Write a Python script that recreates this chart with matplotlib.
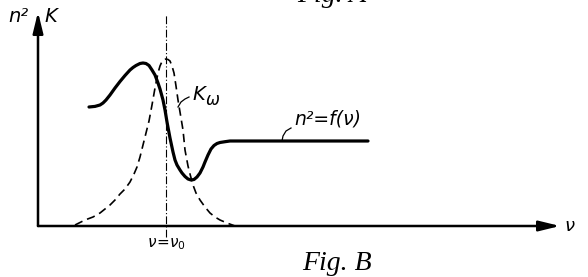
import matplotlib
matplotlib.use("Agg")
import matplotlib.pyplot as plt

# Curve n^2 = f(nu) (arbitrary units; origin at axes crossing)
n2_nu = [51, 54, 57, 62, 65, 68, 72, 77, 82, 87, 92, 95, 98, 102, 105, 108, 111,
         114, 117, 120, 122, 125, 127, 129, 132, 135, 137, 139, 142, 144, 147,
         150, 153, 156, 159, 162, 165, 167, 170, 173, 176, 179, 182, 187, 192,
         212, 262, 330]
n2_val = [119, 119.3, 119.6, 121, 123, 126, 131, 138, 144.5, 150.5, 156, 158.5,
          160.5, 162.5, 163, 162.5, 160.5, 156, 151, 143, 137, 126, 116, 104,
          88, 74, 66, 61, 56, 53, 49.5, 47, 46, 46.5, 49, 53, 59, 64, 71, 77,
          80.5, 82.5, 83.5, 84.3, 85, 85, 85, 85]

# Absorption curve K_omega (dashed)
k_nu = [37, 42, 47, 55, 62, 67, 72, 77, 82, 87, 92, 96, 99, 102, 105, 108, 111,
        114, 117, 120, 122, 124, 126, 128, 130, 132, 134, 136, 138, 140, 142,
        145, 147, 150, 152, 155, 158, 162, 167, 172, 177, 182, 189, 197]
k_val = [1, 3.5, 6, 9, 13, 17, 21, 26, 32, 37, 44, 52, 59, 69, 81, 93, 105, 121,
         138, 153, 160, 164.5, 166.5, 167, 166.5, 165, 160, 153, 140, 126, 114,
         96, 76, 60, 52, 41, 33, 26, 19, 13, 9, 6, 3, 0]

nu0 = 128          # resonance position
x_end = 522        # end of nu axis
y_end = 214        # end of ordinate axis

fig = plt.figure(figsize=(5.88, 2.77), dpi=100)
ax = fig.add_axes([0, 0, 1, 1])
ax.set_xlim(-38, 550)
ax.set_ylim(-51, 226)
ax.axis("off")

arrow = "-|>,head_length=0.9,head_width=0.22"
# axes with arrows
ax.annotate("", xy=(x_end, 0), xytext=(0, 0),
            arrowprops=dict(arrowstyle=arrow, lw=1.8, color="black",
                            mutation_scale=14, shrinkA=0, shrinkB=0))
ax.annotate("", xy=(0, y_end), xytext=(0, 0),
            arrowprops=dict(arrowstyle=arrow, lw=1.8, color="black",
                            mutation_scale=14, shrinkA=0, shrinkB=0))

# resonance dash-dot line
ax.plot([nu0, nu0], [-11, 212], color="black", lw=0.8,
        linestyle=(0, (7, 2, 1, 2)))

# curves
ax.plot(k_nu, k_val, color="black", lw=1.2, linestyle=(0, (5, 3)))
ax.plot(n2_nu, n2_val, color="black", lw=2.3, solid_capstyle="round",
        solid_joinstyle="round")

# leader lines
ax.plot([140, 143, 147, 151], [119, 124, 127, 129], color="black", lw=0.9)
ax.plot([244, 245, 248, 253], [85, 90, 95, 98], color="black", lw=0.9)

hand = dict(family="DejaVu Sans", style="italic", color="black")
ax.text(-30, 209, "n²", fontsize=14, ha="left", va="center", **hand)
ax.text(6, 210, "K", fontsize=14, ha="left", va="center", **hand)
ax.text(154, 131, "K", fontsize=14, ha="left", va="center", **hand)
ax.text(168, 126, "ω", fontsize=12, ha="left", va="center", **hand)
ax.text(256, 107, "n²=f(ν)", fontsize=13.5, ha="left", va="center", **hand)
ax.text(128, -18, r"$\nu\!=\!\nu_0$", fontsize=11, ha="center", va="center",
        color="black")
ax.text(526, 0, "ν", fontsize=13, ha="left", va="center", **hand)
ax.text(264, -37, "Fig. B", fontsize=20, ha="left", va="center",
        family="Liberation Serif", style="italic", color="black")
ax.text(259, 231, "Fig. A", fontsize=20, ha="left", va="center",
        family="Liberation Serif", style="italic", color="black")

fig.savefig("out.png", dpi=100)
